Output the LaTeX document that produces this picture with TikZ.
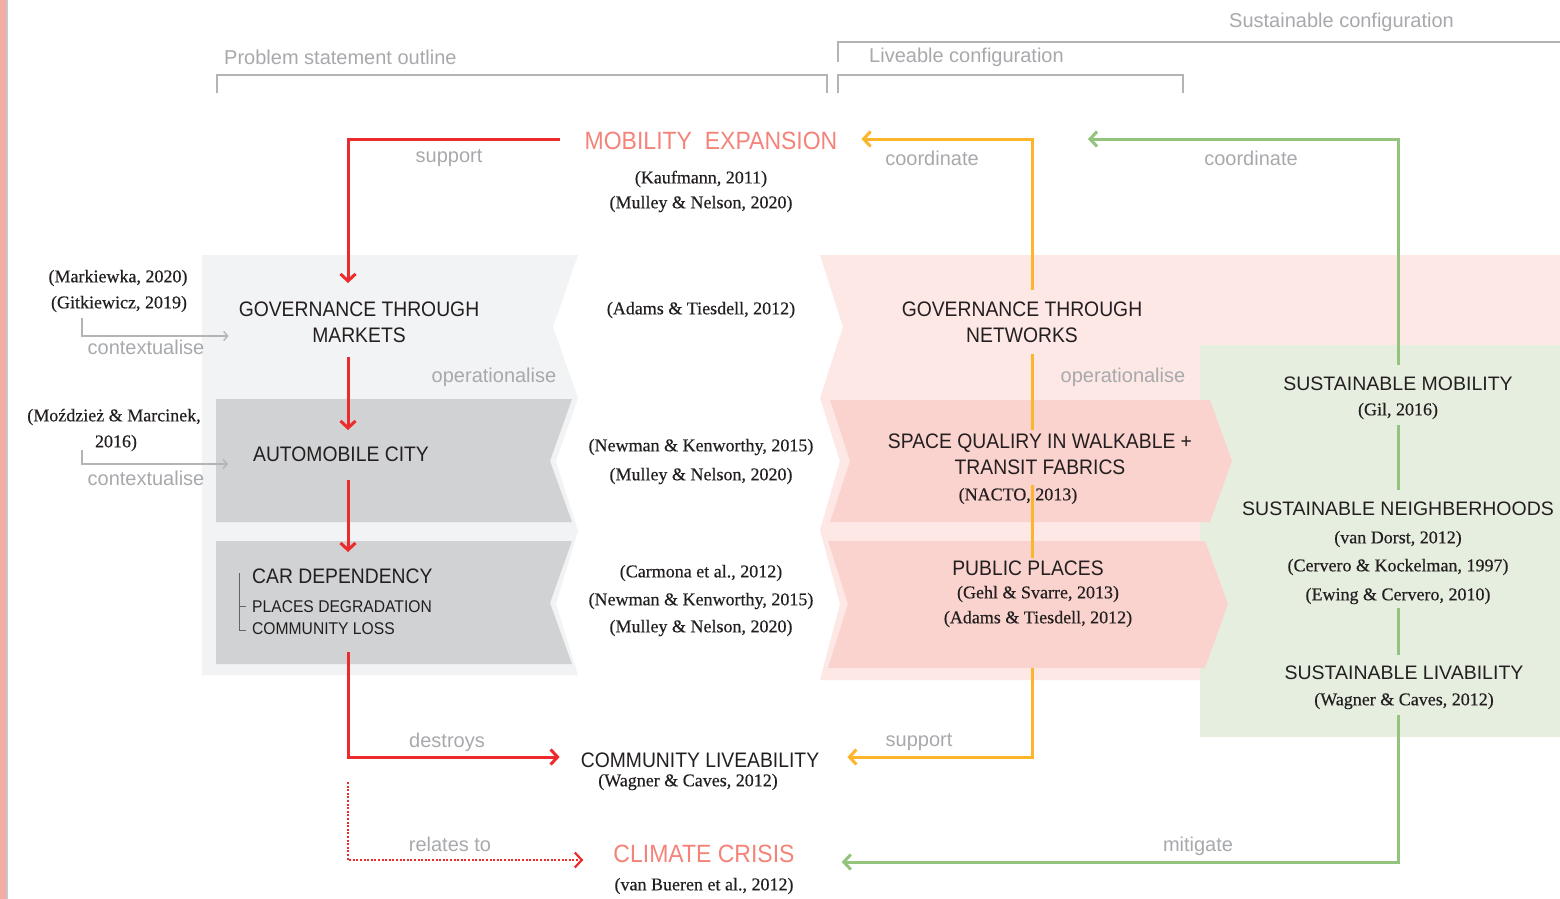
\documentclass[tikz,border=0pt]{standalone}
\usepackage{fontspec}
\setmainfont{Liberation Serif}
\newfontfamily\citefont[FakeBold=0.4]{Liberation Serif}
\newfontfamily\capsfont[FakeStretch=0.92]{Liberation Sans}
\newfontfamily\plainsans{Liberation Sans}
\usetikzlibrary{arrows.meta}

\definecolor{inkdark}{HTML}{231F20}
\definecolor{salmon}{HTML}{F4837A}
\definecolor{redc}{HTML}{ED2A2C}
\definecolor{yelc}{HTML}{FDB62B}
\definecolor{grnc}{HTML}{93C47D}
\definecolor{labgray}{HTML}{A7A9AC}
\definecolor{brgray}{HTML}{B4B4B4}
\definecolor{panelgray}{HTML}{F2F3F4}
\definecolor{boxgray}{HTML}{D1D2D4}
\definecolor{panelpink}{HTML}{FDE8E5}
\definecolor{boxpink}{HTML}{FBD3CE}
\definecolor{panelgreen}{HTML}{E6EEDF}
\definecolor{edgepink}{HTML}{F2ACA4}
\definecolor{edgegray}{HTML}{C8C8C8}

\tikzset{
  boxtxt/.style={font=\capsfont\fontsize{21}{26}\selectfont, text=inkdark, align=center, inner sep=0pt},
  subtxt/.style={font=\capsfont\fontsize{17}{20}\selectfont, text=inkdark, inner sep=0pt, anchor=west},
  susttxt/.style={font=\plainsans\fontsize{19.5}{24}\selectfont, text=inkdark, inner sep=0pt},
  keytxt/.style={font=\capsfont\fontsize{25}{30}\selectfont, text=salmon, inner sep=0pt},
  cite/.style={font=\citefont\fontsize{18}{22}\selectfont, text=inkdark, inner sep=0pt},
  lab/.style={font=\plainsans\fontsize{20}{24}\selectfont, text=labgray, inner sep=0pt},
  bracket/.style={draw=brgray, line width=2pt},
  barb/.style={-{Straight Barb[length=7pt,width=15pt]}},
  smallbarb/.style={-{Straight Barb[length=4pt,width=9pt]}},
  redl/.style={draw=redc, line width=3pt},
  yell/.style={draw=yelc, line width=3pt},
  grnl/.style={draw=grnc, line width=3pt},
  ctxl/.style={draw=brgray, line width=1.3pt},
  dotline/.style={dash pattern=on 2pt off 1.6pt, line width=2.2pt},
}

\begin{document}
\begin{tikzpicture}[x=1pt,y=-1pt]
\useasboundingbox (0,0) rectangle (1560,899);
\fill[white] (0,0) rectangle (1560,899);

% left margin strip
\fill[edgepink] (0,0) rectangle (6,899);
\draw[edgegray, line width=1.5pt] (7,0) -- (7,899);

% section brackets
\draw[bracket] (217,93) -- (217,75) -- (827,75) -- (827,93);
\draw[bracket] (838,93) -- (838,75) -- (1183,75) -- (1183,93);
\draw[bracket] (838,62) -- (838,42) -- (1560,42);
\node[lab, anchor=west] (hprob) at (224,57) {Problem statement outline};
\node[lab, anchor=west] (hlive) at (869,57) {Liveable configuration};
\node[lab, anchor=west] (hsust) at (1229,22) {Sustainable configuration};

% grey panel with notched ribbons
\fill[panelgray] (202,255) -- (578,255) -- (553,327) -- (578,398) -- (556,461) -- (578,531) -- (556,604) -- (578,675) -- (202,675) -- cycle;
\fill[boxgray] (216,399) -- (572,399) -- (550,461) -- (572,522) -- (216,522) -- cycle;
\fill[boxgray] (216,541) -- (572,541) -- (550,603) -- (572,664) -- (216,664) -- cycle;

% pink panel, green panel and pink chevrons
\fill[panelpink] (820,255) -- (1560,255) -- (1560,345) -- (1200,345) -- (1200,680) -- (820,680) -- (840,604) -- (820,530) -- (840,461) -- (820,398) -- (843,327) -- cycle;
\fill[panelgreen] (1200,345) rectangle (1560,737);
\fill[boxpink] (830,400) -- (1210,400) -- (1232,461) -- (1210,522) -- (830,522) -- (850,461) -- cycle;
\fill[boxpink] (828,541) -- (1205,541) -- (1228,604) -- (1205,668) -- (828,668) -- (848,604) -- cycle;

% central column
\node[keytxt] (mob) at (711,141) {MOBILITY\ \ EXPANSION};
\node[cite] (kauf) at (701,179) {(Kaufmann, 2011)};
\node[cite] (mul1) at (701,204) {(Mulley \& Nelson, 2020)};
\node[cite] (adams1) at (701,310) {(Adams \& Tiesdell, 2012)};
\node[cite] (new1) at (701,447) {(Newman \& Kenworthy, 2015)};
\node[cite] (mul2) at (701,476) {(Mulley \& Nelson, 2020)};
\node[cite] (carm) at (701,573) {(Carmona et al., 2012)};
\node[cite] (new2) at (701,601) {(Newman \& Kenworthy, 2015)};
\node[cite] (mul3) at (701,628) {(Mulley \& Nelson, 2020)};
\node[boxtxt] (comm) at (700,760) {COMMUNITY LIVEABILITY};
\node[cite] (wag1) at (688,782) {(Wagner \& Caves, 2012)};
\node[keytxt] (clim) at (704,854) {CLIMATE CRISIS};
\node[cite] (bue) at (704,886) {(van Bueren et al., 2012)};

% left column
\node[boxtxt] (gm) at (359,322) {GOVERNANCE THROUGH\\MARKETS};
\node[cite] (mark) at (118,278) {(Markiewka, 2020)};
\node[cite] (gitk) at (119,304) {(Gitkiewicz, 2019)};
\node[lab] (ctx1) at (146,347) {contextualise};
\node[lab] (op1) at (494,377) {operationalise};
\node[boxtxt] (ac) at (341,454) {AUTOMOBILE CITY};
\node[cite] (moz1) at (114,417) {(Moździeż \& Marcinek,};
\node[cite] (moz2) at (116,443) {2016)};
\node[lab] (ctx2) at (146,478) {contextualise};
\node[boxtxt, anchor=west] (cd) at (252,576) {CAR DEPENDENCY};
\node[subtxt] (pd) at (252,607) {PLACES DEGRADATION};
\node[subtxt] (cl0) at (252,629) {COMMUNITY LOSS};
\draw[inkdark!70, line width=0.8pt] (239,573) -- (239,630) -- (246,630);
\draw[inkdark!70, line width=0.8pt] (239,606) -- (246,606);

% right column
\node[boxtxt] (gn) at (1022,322) {GOVERNANCE THROUGH\\NETWORKS};
\node[lab] (op2) at (1123,377) {operationalise};
\node[boxtxt] (sq) at (1040,454) {SPACE QUALIRY IN WALKABLE +\\TRANSIT FABRICS};
\node[cite] (nacto) at (1018,496) {(NACTO, 2013)};
\node[boxtxt] (pp) at (1028,568) {PUBLIC PLACES};
\node[cite] (gehl) at (1038,594) {(Gehl \& Svarre, 2013)};
\node[cite] (adams2) at (1038,619) {(Adams \& Tiesdell, 2012)};

% sustainable column
\node[susttxt] (sm) at (1398,384) {SUSTAINABLE MOBILITY};
\node[cite] (gil) at (1398,411) {(Gil, 2016)};
\node[susttxt] (sn) at (1398,509) {SUSTAINABLE NEIGHBERHOODS};
\node[cite] (vd) at (1398,539) {(van Dorst, 2012)};
\node[cite] (ck) at (1398,567) {(Cervero \& Kockelman, 1997)};
\node[cite] (ew) at (1398,596) {(Ewing \& Cervero, 2010)};
\node[susttxt] (sl) at (1404,673) {SUSTAINABLE LIVABILITY};
\node[cite] (wag2) at (1404,701) {(Wagner \& Caves, 2012)};

% connector labels
\node[lab] (lsup1) at (449,158) {support};
\node[lab] (lcoo1) at (932,158) {coordinate};
\node[lab] (lcoo2) at (1251,158) {coordinate};
\node[lab] (ldes) at (447,742) {destroys};
\node[lab] (lrel) at (450,844) {relates to};
\node[lab] (lsup2) at (919,742) {support};
\node[lab] (lmit) at (1198,846) {mitigate};

% contextualise arrows
\draw[ctxl, smallbarb] ([xshift=-37pt,yshift=-14pt]gitk.center) |- ([xshift=-10pt,yshift=-14pt]gm.west);
\draw[ctxl, smallbarb] ([xshift=-34pt,yshift=-7pt]moz2.center) |- ([xshift=-25pt,yshift=-10pt]ac.west);

% red chain
\draw[redl, barb] ([xshift=-24pt,yshift=2pt]mob.west) -| ([xshift=-11pt,yshift=39pt]gm.center);
\draw[redl, barb] ([xshift=-11pt,yshift=-35pt]gm.center) -- ([xshift=7pt,yshift=24pt]ac.center);
\draw[redl, barb] ([xshift=7pt,yshift=-26pt]ac.center) -- ([xshift=96pt,yshift=24pt]cd.west);
\draw[redl, barb] ([xshift=96pt,yshift=-23pt]cl0.west) |- ([xshift=-21pt,yshift=3pt]comm.west);
\coordinate (dotstart) at (348,782);
\draw[redl, dotline, barb] (dotstart) |- ([xshift=-30pt,yshift=-6pt]clim.west);

% yellow chain
\draw[yell, barb] ([xshift=10pt,yshift=32pt]gn.center) |- ([xshift=24pt,yshift=2pt]mob.east);
\draw[yell] ([xshift=10pt,yshift=-32pt]gn.center) -- ([xshift=-8pt,yshift=24pt]sq.center);
\draw[yell] ([xshift=14pt,yshift=11pt]nacto.center) -- ([xshift=4pt,yshift=10pt]pp.center);
\draw[yell, barb] ([xshift=-6pt,yshift=-49pt]adams2.center) |- ([xshift=28pt,yshift=3pt]comm.east);

% green chain
\coordinate (gtip) at (1088,139);
\draw[grnl, barb] ([yshift=19pt]sm.center) |- (gtip);
\draw[grnl] ([yshift=-14pt]gil.center) -- ([yshift=19pt]sn.center);
\draw[grnl] ([yshift=-12pt]ew.center) -- ([xshift=-6pt,yshift=18pt]sl.center);
\draw[grnl, barb] ([xshift=-6pt,yshift=-14pt]wag2.center) |- ([xshift=47pt,yshift=-8pt]clim.east);
\end{tikzpicture}
\end{document}
